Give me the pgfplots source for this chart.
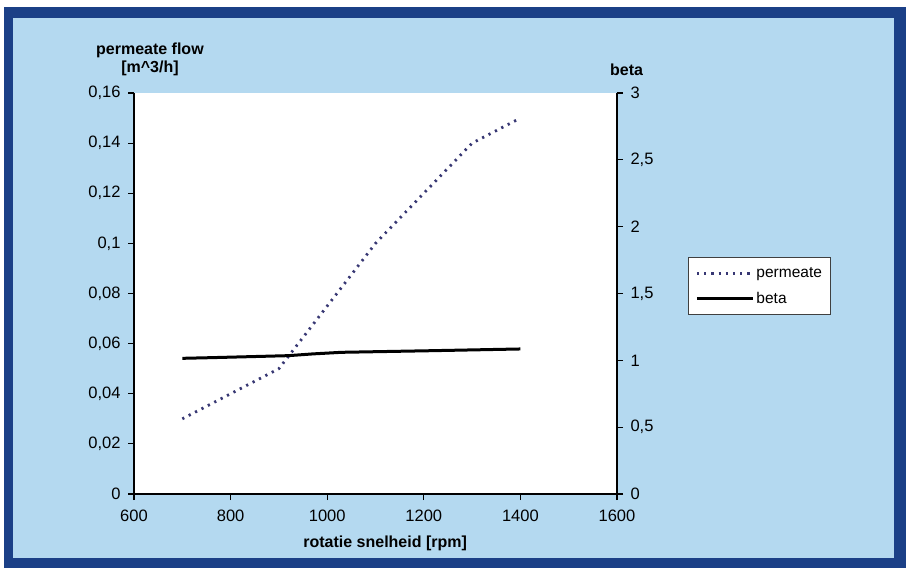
\documentclass[border=0pt]{standalone}
\usepackage{pgfplots}
\pgfplotsset{compat=1.18}
\usepackage{fontspec}
\setmainfont{Liberation Sans}
\definecolor{frameblue}{RGB}{27,64,135}
\definecolor{bgblue}{RGB}{180,217,240}
\definecolor{permcol}{RGB}{55,55,115}
\pgfplotstableread{
rpm flow
700 0.030
800 0.040
900 0.050
1000 0.075
1100 0.100
1200 0.120
1300 0.140
1400 0.150
}\permeatedata
\pgfplotstableread{
rpm beta
700 1.015
760 1.020
920 1.035
970 1.048
1030 1.060
1215 1.072
1400 1.085
}\betadata
\begin{document}
\begin{tikzpicture}[x=1pt,y=1pt]
\fill[white] (0,0) rectangle (906,568);
\fill[frameblue] (4,0) rectangle (906,561);
\fill[bgblue] (13,10) rectangle (894,550);
\pgfplotsset{
  common/.style={
    at={(134pt,74pt)}, anchor=south west, scale only axis,
    width=483pt, height=401pt,
    xmin=600, xmax=1600,
    tick align=outside, major tick length=6pt,
    every tick/.style={black, line width=1.2pt},
    axis line style={black, line width=1.2pt},
    tick label style={font=\fontsize{16.5}{18}\selectfont},
    label style={font=\bfseries\fontsize{16}{18}\selectfont},
  }
}
\begin{axis}[common,
  ymin=0, ymax=0.16,
  axis y line*=left, axis x line*=bottom,
  axis background/.style={fill=white},
  xtick={600,800,1000,1200,1400,1600},
  xticklabels={600,800,1000,1200,1400,1600},
  ytick={0,0.02,0.04,0.06,0.08,0.1,0.12,0.14,0.16},
  yticklabels={0,{0,02},{0,04},{0,06},{0,08},{0,1},{0,12},{0,14},{0,16}},
  xlabel={rotatie snelheid [rpm]},
  xlabel style={at={(axis description cs:0.52,-0.095)}, anchor=north},
  ylabel={permeate flow\\\relax [m\textasciicircum 3/h]},
  ylabel style={rotate=-90, at={(axis description cs:0.033,1.035)}, anchor=south, align=center},
  xticklabel style={yshift=-6pt},
  yticklabel style={xshift=-4pt},
]
\addplot[permcol, line width=2.8pt, dash pattern=on 2.2pt off 5pt] table[x=rpm, y=flow] {\permeatedata};
\end{axis}
\begin{axis}[common,
  ymin=0, ymax=3,
  axis y line*=right, axis x line=none,
  ytick={0,0.5,1,1.5,2,2.5,3},
  yticklabels={0,{0,5},1,{1,5},2,{2,5},3},
  ylabel={beta},
  ylabel style={rotate=-90, at={(axis description cs:1.02,1.035)}, anchor=south},
  yticklabel style={xshift=4pt},
  legend style={at={(rel axis cs:1.147,0.591)}, anchor=north west,
    draw=black!75, line width=0.9pt, fill=white,
    font=\fontsize{15.5}{17}\selectfont, row sep=9pt, inner ysep=8pt, inner xsep=7pt},
  legend cell align=left,
  legend image code/.code={\draw[#1] (0pt,0pt) -- (56pt,0pt);},
]
\addlegendimage{permcol, line width=2.8pt, dash pattern=on 2.2pt off 5pt}
\addlegendentry{permeate}
\addplot[black, line width=3pt] table[x=rpm, y=beta] {\betadata};
\addlegendentry{beta}
\end{axis}
\end{tikzpicture}
\end{document}
